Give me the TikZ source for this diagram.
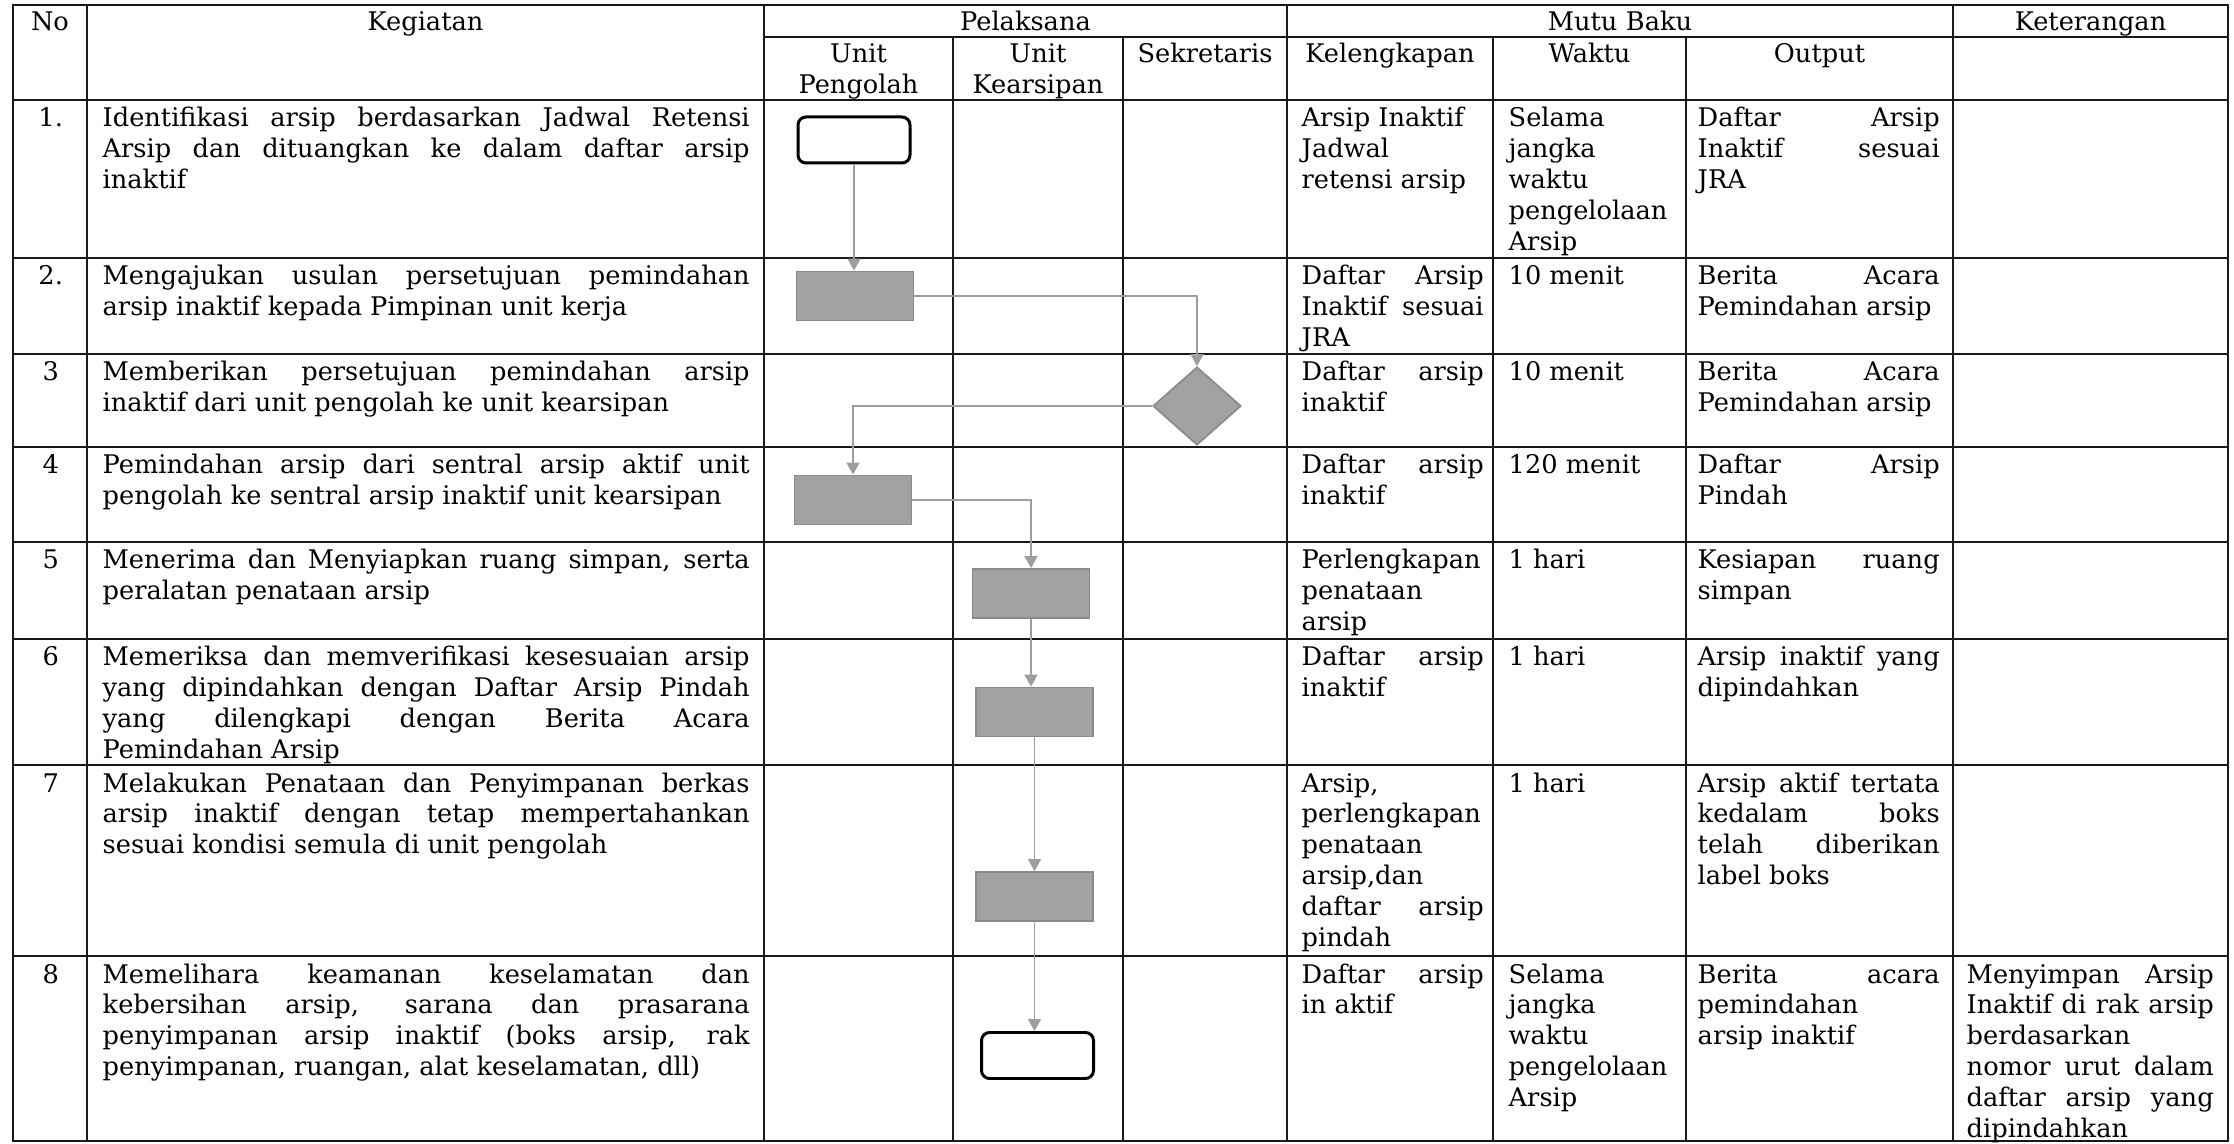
\documentclass[tikz,border=0pt]{standalone}
\usepackage{fontspec}
\setmainfont{DejaVu Serif}
\usetikzlibrary{shapes.geometric,arrows.meta}
\definecolor{boxGRY}{HTML}{A2A2A2}
\definecolor{edgGRY}{HTML}{8A8A8A}
\definecolor{lnkGRY}{HTML}{9E9E9E}
\tolerance=9999 \hbadness=10000 \hyphenpenalty=10000
\newcommand{\sopcell}[5]{%
  \pgfmathsetmacro{\sopx}{{0.13,1.02,13.01,15.08,16.97,19.66}[#1]}%
  \pgfmathsetmacro{\sopw}{{0.74,6.47,1.82,1.75,2.42,2.47}[#1]}%
  \pgfmathsetmacro{\sopy}{{-1.00,-2.58,-3.54,-4.47,-5.42,-6.39,-7.65,-9.56}[#2-1]-0.27}%
  \node[cel, text width=\sopw cm, #5] (#3) at (\sopx,\sopy) {#4};}

\begin{document}
\begin{tikzpicture}[
  grd/.style={line width=0.5pt, black!90, line cap=rect},
  cel/.style={anchor=base west, inner sep=0pt, align=justify, font=\fontsize{7.3}{8.8}\selectfont},
  hd/.style={anchor=base, inner sep=0pt, align=center, text width=2.6cm, font=\fontsize{7.3}{8.8}\selectfont},
  prc/.style={draw=edgGRY, fill=boxGRY, line width=0.5pt, minimum width=1.17cm, minimum height=0.49cm, inner sep=0pt},
  trm/.style={draw, line width=0.85pt, rounded corners=0.08cm, fill=white, minimum width=1.12cm, minimum height=0.46cm, inner sep=0pt},
  dcs/.style={diamond, draw=edgGRY, fill=boxGRY, line width=0.5pt, minimum width=0.88cm, minimum height=0.78cm, inner sep=0pt},
  lnk/.style={draw=lnkGRY, line width=0.45pt, -{Triangle[width=0.13cm,length=0.12cm]}}]
\useasboundingbox (0,0) rectangle (22.34,-11.44);
% grid
\foreach \y in {-0.05,-1.00,-2.58,-3.54,-4.47,-5.42,-6.39,-7.65,-9.56,-11.41}
  {\draw[grd] (0.13,\y) -- (22.28,\y);}
\draw[grd] (7.64,-0.37) -- (22.28,-0.37);
\foreach \x in {0.13,0.87,7.64,12.87,19.53,22.28}{\draw[grd] (\x,-0.05) -- (\x,-11.41);}
\foreach \x in {9.53,11.23,14.93,16.86}{\draw[grd] (\x,-0.37) -- (\x,-11.41);}
% header
\foreach \x/\n/\t in {0.50/no/No, 4.255/keg/Kegiatan, 10.255/pel/Pelaksana, 16.20/mutu/Mutu Baku, 20.905/ket/Keterangan}
  {\node[hd] (h\n) at (\x,-0.31) {\t};}
\foreach \x/\n/\t in {8.585/up/{Unit\\Pengolah}, 10.38/uk/{Unit\\Kearsipan}, 12.05/sek/Sekretaris, 13.90/kel/Kelengkapan, 15.895/wkt/Waktu, 18.195/out/Output}
  {\node[hd] (h\n) at (\x,-0.625) {\t};}
% no
\foreach \r/\t in {1/1., 2/2., 3/3, 4/4, 5/5, 6/6, 7/7, 8/8}{\sopcell{0}{\r}{no\r}{\t}{align=center}}
% kegiatan
\foreach \r/\t in {
  1/{Identifikasi arsip berdasarkan Jadwal Retensi\linebreak Arsip dan dituangkan ke dalam daftar arsip\linebreak inaktif},
  2/{Mengajukan usulan persetujuan pemindahan\linebreak arsip inaktif kepada Pimpinan unit kerja},
  3/{Memberikan persetujuan pemindahan arsip\linebreak inaktif dari unit pengolah ke unit kearsipan},
  4/{Pemindahan arsip dari sentral arsip aktif unit\linebreak pengolah ke sentral arsip inaktif unit kearsipan},
  5/{Menerima dan Menyiapkan ruang simpan, serta\linebreak peralatan penataan arsip},
  6/{Memeriksa dan memverifikasi kesesuaian arsip\linebreak yang dipindahkan dengan Daftar Arsip Pindah\linebreak yang dilengkapi dengan Berita Acara\linebreak Pemindahan Arsip},
  7/{Melakukan Penataan dan Penyimpanan berkas\linebreak arsip inaktif dengan tetap mempertahankan\linebreak sesuai kondisi semula di unit pengolah},
  8/{Memelihara keamanan keselamatan dan\linebreak kebersihan arsip, sarana dan prasarana\linebreak penyimpanan arsip inaktif (boks arsip, rak\linebreak penyimpanan, ruangan, alat keselamatan, dll)}}
  {\sopcell{1}{\r}{keg\r}{\t}{}}
% kelengkapan
\foreach \r/\t in {
  1/{Arsip Inaktif\\Jadwal\\retensi arsip},
  2/{Daftar Arsip\linebreak Inaktif sesuai\linebreak JRA},
  3/{Daftar arsip\linebreak inaktif}, 4/{Daftar arsip\linebreak inaktif},
  5/{Perlengkapan\linebreak penataan\linebreak arsip}, 6/{Daftar arsip\linebreak inaktif},
  7/{Arsip,\linebreak perlengkapan\linebreak penataan\linebreak arsip,dan\linebreak daftar arsip\linebreak pindah},
  8/{Daftar arsip\linebreak in aktif}}
  {\sopcell{2}{\r}{kel\r}{\t}{}}
% waktu
\foreach \r/\t in {1/{Selama\\jangka\\waktu\\pengelolaan\\Arsip}, 2/10 menit, 3/10 menit, 4/120 menit,
  5/1 hari, 6/1 hari, 7/1 hari, 8/{Selama\\jangka\\waktu\\pengelolaan\\Arsip}}
  {\sopcell{3}{\r}{wkt\r}{\t}{}}
% output
\foreach \r/\t in {
  1/{Daftar Arsip\linebreak Inaktif sesuai\linebreak JRA},
  2/{Berita Acara\linebreak Pemindahan arsip}, 3/{Berita Acara\linebreak Pemindahan arsip},
  4/{Daftar Arsip\linebreak Pindah}, 5/{Kesiapan ruang\linebreak simpan},
  6/{Arsip inaktif yang\linebreak dipindahkan},
  7/{Arsip aktif tertata\linebreak kedalam boks\linebreak telah diberikan\linebreak label boks},
  8/{Berita acara\linebreak pemindahan\linebreak arsip inaktif}}
  {\sopcell{4}{\r}{out\r}{\t}{}}
% keterangan
\sopcell{5}{8}{ket8}{Menyimpan Arsip\linebreak Inaktif di rak arsip\linebreak berdasarkan\linebreak nomor urut dalam\linebreak daftar arsip yang\linebreak dipindahkan}{}
% flow
\node[trm] (t1) at (8.54,-1.40) {};
\node[prc] (b2) at (8.55,-2.96) {};
\node[dcs] (d3) at (11.97,-4.06) {};
\node[prc] (b4) at (8.53,-5.00) {};
\node[prc] (b5) at (10.31,-5.935) {};
\node[prc] (b6) at (10.345,-7.12) {};
\node[prc] (b7) at (10.345,-8.965) {};
\node[trm] (t8) at (10.375,-10.555) {};
\draw[lnk] (t1.south) -- (t1.south |- b2.north);
\draw[lnk] (b2.east) -| (d3.north);
\draw[lnk] (d3.west) -| (b4.north);
\draw[lnk] (b4.east) -| (b5.north);
\draw[lnk] (b5.south) -- (b5.south |- b6.north);
\draw[lnk] (b6.south) -- (b6.south |- b7.north);
\draw[lnk] (b7.south) -- (b7.south |- t8.north);
\end{tikzpicture}
\end{document}
